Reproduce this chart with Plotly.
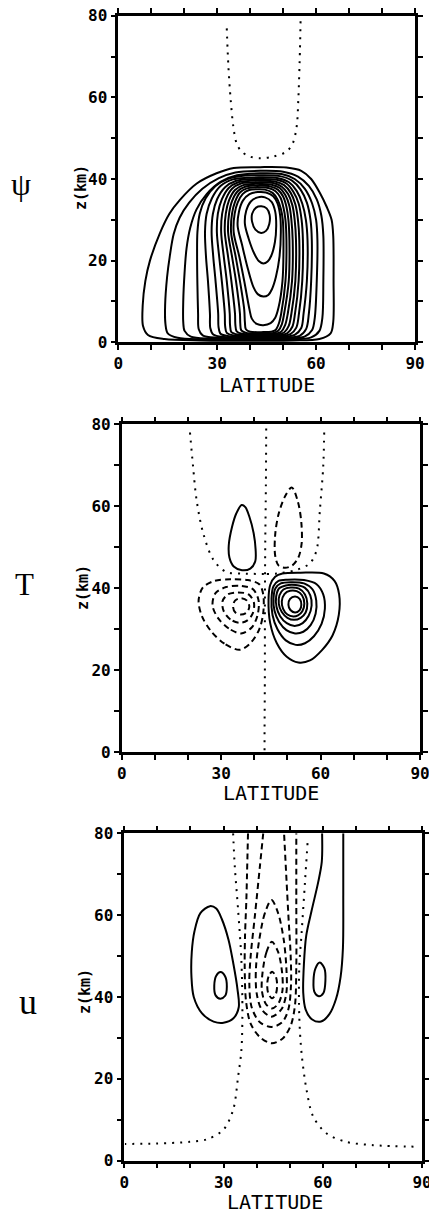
import plotly.graph_objects as go

# ---------------------------------------------------------------
# contour lines, as (latitude, z km) points
# ---------------------------------------------------------------

# psi : solid contours (outermost first), dotted zero line
PSI_SOLID = [
    [(44,0.4),(25,0.45),(14,0.8),(9,1.8),(7.5,4),(7.4,9),(8.2,15),(9.6,20),(12.6,26.7),(15.5,31.5),(18.7,34.9),(23.8,38.9),(29.8,41.4),(35,42.7),(43,42.9),(51,42.8),(55.5,42),(58.5,40),(61.2,36.5),(63.2,33.2),(64.7,30),(65.2,26),(65.3,15),(65.2,5),(64.4,2.2),(61,0.8),(53,0.45),(44,0.4)],
    [(44,0.6),(26,0.7),(18,1.1),(15,2.2),(14.3,4.5),(14.2,9),(14.8,16),(15.6,21),(16.8,26.5),(18.6,30.5),(21.5,34.2),(25.5,37.6),(30.5,40.2),(35.5,41.6),(43,42.0),(50,41.8),(54.5,40.6),(57.8,38.3),(60.2,35),(61.6,31),(62.2,26),(62.2,15),(61.9,6),(61,2.8),(58.5,1.2),(52,0.7),(44,0.6)],
    [(44,0.8),(28,0.9),(22,1.4),(20.1,2.8),(19.7,5),(19.7,10),(20.1,17),(20.7,23),(21.8,28),(23.7,32.5),(26.8,36.3),(31,39.3),(36,40.9),(43,41.4),(49.5,41.2),(53.5,40),(56.6,37.6),(58.8,34),(60,30),(60.4,25),(60.2,15),(59.6,6),(58.8,3),(56.5,1.4),(51,0.9),(44,0.8)],
    [(44,1.0),(30,1.1),(25.6,1.7),(24.4,3.2),(24.2,7),(24.0,14),(23.9,21),(24.0,27),(24.7,31.5),(26.5,35.3),(29.5,38.3),(33.5,40.1),(38,40.8),(43,40.9),(49,40.7),(52.7,39.6),(55.3,37.4),(57.2,34.2),(58.3,30),(58.7,25),(58.5,15),(57.8,7),(57,3.3),(55,1.6),(50,1.1),(44,1.0)],
    [(44,1.2),(32,1.3),(28.8,1.9),(27.9,3.5),(27.8,7),(27.2,15),(26.6,21),(26.3,27),(26.8,31.5),(28.4,35.3),(31,38.3),(34.8,39.9),(39,40.3),(43,40.4),(48.5,40.2),(51.8,39.2),(54.1,37.1),(55.8,34),(56.9,30),(57.4,25),(57.2,15),(56.2,7),(55.5,3.5),(53.5,1.8),(49.5,1.3),(44,1.2)],
    [(44,1.4),(33.5,1.5),(31,2.1),(30.4,3.8),(30.3,7),(29.5,15),(28.8,21),(28.3,27),(28.7,31.5),(30,35.1),(32.4,38),(35.6,39.5),(39.5,39.95),(43,40.0),(48,39.8),(51,38.9),(53.1,36.9),(54.7,34),(55.6,30),(56,25),(55.8,15),(54.8,7),(54,3.6),(52.2,2),(49,1.5),(44,1.4)],
    [(44,1.6),(35,1.7),(32.9,2.3),(32.4,4),(32.3,7),(31.4,15),(30.6,21),(29.9,27),(30.2,31.5),(31.4,35),(33.5,37.8),(36.4,39.2),(40,39.55),(43,39.6),(47.5,39.4),(50.3,38.5),(52.3,36.6),(53.7,33.8),(54.5,30),(54.9,25),(54.7,15),(53.6,7),(52.8,3.8),(51.2,2.2),(48.5,1.7),(44,1.6)],
    [(44,1.8),(36.3,1.9),(34.3,2.5),(33.9,4.2),(33.8,7),(32.9,15),(32,21),(31.2,27),(31.5,31.5),(32.6,35),(34.5,37.6),(37.2,38.9),(40.5,39.15),(43,39.2),(47,39.0),(49.6,38.1),(51.5,36.3),(52.8,33.6),(53.5,30),(53.9,25),(53.7,15),(52.5,7),(51.7,4),(50.3,2.4),(48,1.9),(44,1.8)],
    [(44,2.0),(37.6,2.1),(35.9,2.7),(35.5,4.4),(35.4,7),(34.3,15),(33.3,21),(32.3,27),(32.6,31.5),(33.6,34.8),(35.4,37.3),(37.9,38.5),(41,38.8),(43,38.8),(46.5,38.6),(49,37.8),(50.7,36),(51.9,33.4),(52.5,30),(52.9,25),(52.7,15),(51.4,7),(50.6,4.2),(49.4,2.6),(47.5,2.1),(44,2.0)],
    [(44,2.2),(38.8,2.3),(37.3,2.9),(37,4.6),(36.9,7),(35.7,15),(34.5,21),(33.3,27),(33.6,31.5),(34.5,34.6),(36.2,37),(38.5,38.1),(41.2,38.4),(43,38.4),(46,38.2),(48.4,37.4),(50,35.7),(51,33.2),(51.6,30),(51.9,25),(51.7,15),(50.3,7),(49.6,4.4),(48.5,2.8),(47,2.3),(44,2.2)],
    [(44,2.5),(40,2.6),(38.7,3.2),(38.4,5),(38.2,8),(36.9,15),(35.6,21),(34.2,27),(34.5,31.5),(35.4,34.4),(36.9,36.7),(39,37.7),(41.5,38),(43,38.0),(45.5,37.8),(47.7,37),(49.2,35.4),(50.1,33),(50.7,30),(51,25),(50.7,15),(49.4,7),(48.7,4.6),(47.7,3),(46.4,2.6),(44,2.5)],
    [(44,4.2),(42,4.5),(40.5,5.8),(39.8,8),(38.2,15),(36.7,21),(35.0,27),(35.3,31.5),(36.2,34.2),(37.7,36.3),(39.7,37.3),(42,37.5),(44.5,37.4),(46.8,36.6),(48.3,35),(49.3,32.7),(49.9,30),(50.1,25),(49.8,15),(48.6,8.5),(47.6,6),(46.2,4.7),(44,4.2)],
    [(44,11.2),(42.3,11.8),(41,13.5),(39.3,18),(37.5,24),(36.2,28.5),(36.6,32),(37.8,34.7),(39.8,36.3),(42.3,36.8),(44.8,36.7),(47,35.8),(48.3,34),(49.1,31),(49.3,27),(48.9,21),(47.8,16),(46.6,13),(45.5,11.6),(44,11.2)],
    [(44,19.3),(42.6,19.9),(41.2,21.8),(39.5,25.5),(38.4,29),(38.8,32.2),(40.2,34.5),(42.3,35.5),(44.5,35.5),(46.5,34.4),(47.6,32),(47.9,28.5),(47.5,24.5),(46.4,21.2),(45.3,19.8),(44,19.3)],
    [(43.3,26.8),(41.6,27.6),(40.6,29.5),(40.6,31.5),(41.8,33),(43.4,33.3),(45,32.8),(45.9,31.2),(45.8,29),(44.8,27.3),(43.3,26.8)],
]
PSI_ZERO = [
    [(32.9,76.9),(33.4,67.5),(34.1,59.3),(34.9,52.8),(35.9,48.7),(37.4,46.7),(39.9,45.5),(43,45.1),(47,45.5),(51,46.7),(52.9,48.7),(54.1,52.8),(54.6,59.3),(55.1,71.6),(55.3,79.3)],
]

# T : solid (positive), dashed (negative), dotted zero lines
T_SOLID = [
    [(36.2,60.3),(34.6,58.3),(33.3,55),(32.3,50.5),(32.5,47.5),(33.8,45.3),(36.3,44.4),(38.8,44.8),(40.3,46.6),(40.4,49.5),(39.8,53.5),(38.5,57.5),(37.3,59.8),(36.2,60.3)],
    [(53.3,21.9),(49.8,23.3),(46.8,26.6),(44.8,31.5),(44.3,37.2),(44.8,40.8),(46.3,42.8),(48.5,43.6),(54,43.8),(61,43.6),(64.2,41.8),(65.6,38.5),(65.5,33.5),(63.6,28.5),(60.5,25),(56.8,22.4),(53.3,21.9)],
    [(52.5,26.2),(49.5,27.3),(47,30),(45.5,33.5),(45.2,37.5),(45.8,40.5),(47.3,41.8),(50,42.1),(55,42),(58.8,41),(60.8,38.5),(61.3,35),(60.3,31.3),(58,28.3),(55.3,26.6),(52.5,26.2)],
    [(52.3,29),(49.7,29.8),(47.5,31.8),(46.1,34.5),(45.8,37.5),(46.4,40),(48,41.2),(51,41.5),(55,41.2),(57.6,39.7),(58.7,37),(58.5,33.8),(57,31),(54.8,29.4),(52.3,29)],
    [(52.2,30.8),(49.8,31.5),(47.8,33.2),(46.7,35.5),(46.6,38),(47.5,40),(49.5,40.7),(52.5,40.8),(55.3,40.1),(56.9,38.3),(57.3,35.8),(56.4,33.3),(54.6,31.5),(52.2,30.8)],
    [(52,32.3),(50,32.8),(48.3,34.2),(47.4,36.2),(47.6,38.3),(48.8,39.7),(51,40.2),(53.5,39.9),(55.3,38.5),(56,36.3),(55.5,34.1),(54,32.8),(52,32.3)],
    [(51.8,33.1),(50,33.6),(48.7,35),(48.3,36.8),(49.1,38.6),(50.8,39.4),(52.8,39.3),(54.4,38.3),(55.1,36.3),(54.5,34.4),(53.2,33.4),(51.8,33.1)],
    [(52.3,34.1),(50.9,34.7),(50.3,36),(50.8,37.4),(52.3,38),(53.7,37.4),(54.2,36),(53.7,34.7),(52.3,34.1)],
]
T_DASH = [
    [(51.3,64.6),(53.2,61),(54.2,56),(54.3,51),(53.3,47.5),(51.5,45.6),(49.3,45),(47.3,45.6),(46.3,48),(46.3,53),(47.3,58),(49.2,62.3),(51.3,64.6)],
    [(35.6,25.0),(31,26.5),(27,29.5),(24.2,33.2),(23.2,37),(24.5,40.2),(28,41.8),(33,42.2),(38,42),(41.5,41),(42.7,38.5),(42.7,34),(41.5,30),(38.8,26.6),(35.6,25.0)],
    [(36,29),(32.3,30.2),(29.2,32.6),(27.4,35.8),(28.3,38.8),(31.5,40.3),(36,40.6),(39.7,39.7),(41.3,37),(41,33.5),(39.3,30.5),(36,29)],
    [(35.5,31.6),(32.8,32.4),(30.8,34.4),(30.4,36.8),(32,38.5),(35,39),(38.3,38.5),(39.9,36.5),(39.5,33.8),(37.8,32.1),(35.5,31.6)],
    [(36,33.6),(34.3,34.1),(33.6,35.5),(34.2,37),(36,37.6),(37.8,37),(38.5,35.5),(37.7,34.1),(36,33.6)],
]
T_ZERO = [
    [(20.6,78),(21.5,70),(22.6,61.5),(24.6,53.4),(27.7,46.9),(31.5,44),(36.5,43.6),(43.3,43.5)],
    [(61.1,78),(60.8,69.7),(59.8,59.1),(58.8,49.3),(56.8,46.1),(52.8,44.5),(47,43.6),(43.7,43.5)],
    [(43.6,79),(43.5,65),(43.3,50),(43.2,35),(43.2,20),(43.1,5),(43.1,0.5)],
]

# u : solid (positive), dashed (negative), dotted zero lines
U_SOLID = [
    [(25.9,62.2),(23,60.5),(21.2,56),(20.4,51),(20.3,45),(21,40),(23.5,36),(27,34),(30,33.7),(33,34.8),(34.6,37.5),(34.2,42),(33,48),(31.5,54),(29.5,59),(27.8,61.6),(25.9,62.2)],
    [(29.1,46.1),(27.8,45.2),(27.2,42.8),(27.6,40.4),(29,39.6),(30.5,40.3),(31,42.5),(30.5,45),(29.1,46.1)],
    [(59.8,80),(59.7,73),(58.6,68),(56.6,61),(55,55),(54.3,48),(54.1,41),(54.8,37),(56.8,34.5),(59.5,34),(62,35.8),(64,39.5),(65.4,45),(66.1,52),(66.2,65),(66.2,80)],
    [(59.1,48.4),(57.8,47),(57.2,44),(57.5,41.2),(58.8,40.2),(60.2,41),(60.8,44),(60.5,47),(59.1,48.4)],
]
U_DASH = [
    [(37.4,80),(37.1,70),(36.9,63.7),(36.5,55),(36.4,47.4),(36.8,39),(38.2,33.5),(41,30.2),(44.5,28.7),(47.8,29.8),(50.3,33),(51.6,38),(52,47.4),(52,63.7),(52,80)],
    [(42,80),(41,72),(39.5,60),(38.2,50),(37.8,43.3),(38.5,37.5),(41,33.8),(44.5,32.7),(47.7,33.8),(49.6,37),(50.4,43),(50.3,50),(49.6,60),(48.3,80)],
    [(44.5,63.7),(42.5,60.5),(40.8,54),(39.8,47),(40,41),(41.5,37),(44.5,35.2),(47.5,37),(49,41),(49,47),(48.2,54),(46.5,60.5),(44.5,63.7)],
    [(44.6,53.5),(43,51),(41.8,46),(41.6,41.5),(42.8,38.3),(44.6,37.2),(46.5,38.3),(47.8,41.5),(47.7,46),(46.5,51),(44.6,53.5)],
    [(44.7,46.2),(43.6,45),(43.2,43),(43.6,40.7),(44.7,39.7),(45.8,40.7),(46.2,43),(45.8,45),(44.7,46.2)],
]
U_ZERO = [
    [(32.9,80),(33.4,71.9),(34.4,61.3),(35.4,49),(35.7,36),(35.4,27),(34.4,20.5),(32.9,12.4),(29.9,7.5),(24.9,5.2),(19.8,4.6),(9.8,4.2),(0.2,4.1)],
    [(55.4,77.6),(54.6,67.8),(53.6,55.6),(52.9,47.4),(52.9,35.2),(53.6,26.2),(55.1,17.3),(57.1,10.8),(61.1,6.7),(67.1,4.6),(75.2,3.8),(89.3,3.4)],
]

PANEL_NAMES = ["ψ", "T", "u"]
X_TICKS = [0, 10, 20, 30, 40, 50, 60, 70, 80, 90]
X_LABELS = ["0", "", "", "30", "", "", "60", "", "", "90"]
Y_TICKS = [0, 10, 20, 30, 40, 50, 60, 70, 80]
Y_LABELS = ["0", "", "20", "", "40", "", "60", "", "80"]

W, H = 429, 1214
OFF = 0  # body margin is cleared by the post script below
# plot-area boxes in screen pixels (left, right, top, bottom), measured on the scan
boxes = [(118.3, 415.0, 15.7, 342.3),
         (121.7, 420.0, 424.3, 752.3),
         (124.3, 422.0, 833.3, 1160.7)]
# text centres in screen pixels: panel name, z(km), LATITUDE
name_pos = [(21, 184), (24, 584), (28, 1002)]
name_size = [32, 31, 36]
ztitle_pos = [(81, 188), (83, 588), (85, 992)]
lat_pos = [(267, 385), (271, 793), (275, 1202)]

fig = go.Figure()

SOLID = dict(color="black", width=2, shape="spline", smoothing=0.9)
DASH = dict(color="black", width=2, shape="spline", smoothing=0.9, dash="6px,4px")
DOT = dict(color="black", width=2, shape="spline", smoothing=0.9, dash="2px,6px")


def add_lines(curves, style, n):
    sfx = "" if n == 1 else str(n)
    for c in curves:
        fig.add_trace(go.Scatter(
            x=[p[0] for p in c], y=[p[1] for p in c],
            mode="lines", line=style, hoverinfo="skip", showlegend=False,
            xaxis="x" + sfx, yaxis="y" + sfx))


add_lines(PSI_SOLID, SOLID, 1)
add_lines(PSI_ZERO, DOT, 1)
add_lines(T_SOLID, SOLID, 2)
add_lines(T_DASH, DASH, 2)
add_lines(T_ZERO, DOT, 2)
add_lines(U_SOLID, SOLID, 3)
add_lines(U_DASH, DASH, 3)
add_lines(U_ZERO, DOT, 3)


def px(v):
    return (v - OFF) / W


def py(v):
    return 1 - (v - OFF) / H


tick_font = dict(family="DejaVu Sans Mono", size=16, color="black", weight="bold")
layout = dict(
    template="none",
    width=W, height=H, margin=dict(l=0, r=0, t=0, b=0, autoexpand=False),
    paper_bgcolor="white", plot_bgcolor="white", showlegend=False,
)
annotations = []
for i, (l, r, t, b) in enumerate(boxes):
    n = i + 1
    sfx = "" if n == 1 else str(n)
    common = dict(
        ticks="outside", ticklen=5, tickwidth=2, tickcolor="black",
        showline=True, linewidth=2.5, linecolor="black", mirror="allticks",
        showgrid=False, zeroline=False, tickfont=tick_font, ticklabelstandoff=0,
        ticklabeloverflow="allow", fixedrange=True, automargin=False)
    layout["xaxis" + sfx] = dict(
        domain=[px(l), px(r)], range=[0, 90], anchor="y" + sfx,
        tickvals=X_TICKS, ticktext=X_LABELS, **common)
    layout["yaxis" + sfx] = dict(
        domain=[py(b), py(t)], range=[0, 80], anchor="x" + sfx,
        tickvals=Y_TICKS, ticktext=Y_LABELS, **common)
    anchors = dict(xref="paper", yref="paper", showarrow=False,
                   xanchor="center", yanchor="middle")
    annotations.append(dict(
        text="LATITUDE", x=px(lat_pos[i][0]), y=py(lat_pos[i][1]),
        font=dict(family="DejaVu Sans Mono", size=20, color="black"), **anchors))
    annotations.append(dict(
        text="z(km)", x=px(ztitle_pos[i][0]), y=py(ztitle_pos[i][1]), textangle=-90,
        font=dict(family="DejaVu Sans Mono", size=15, color="black", weight="bold"),
        **anchors))
    annotations.append(dict(
        text=PANEL_NAMES[i], x=px(name_pos[i][0]), y=py(name_pos[i][1]),
        font=dict(family="Liberation Serif", size=name_size[i], color="black"),
        **anchors))
layout["annotations"] = annotations
fig.update_layout(**layout)

fig.write_html("out.html", config={"displayModeBar": False},
               post_script="document.body.style.margin='0';")
